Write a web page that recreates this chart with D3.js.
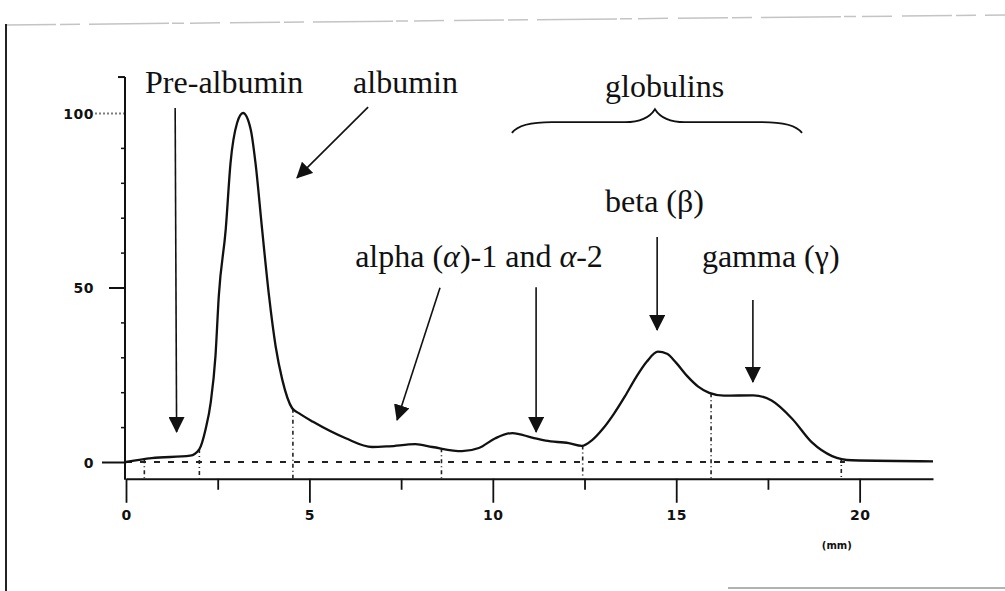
<!DOCTYPE html>
<html>
<head>
<meta charset="utf-8">
<script src="https://cdn.jsdelivr.net/npm/d3@7"></script>
<style>
    body { margin: 0; background: #fff; }
    svg { display: block; }
    .label { font-family: "Liberation Serif", "Times New Roman", serif; font-size: 32px; fill: #111; }
</style>
</head>
<body>
<div id="chart"></div>
<script>
// densitometer trace: migration distance (mm) and relative density
const positionMm = [0, 0.7, 1.75, 2.0, 2.17, 2.31, 2.44, 2.53, 2.72, 2.85, 3.03, 3.19, 3.4, 3.53, 3.71, 3.9,
    4.08, 4.26, 4.53, 4.71, 5.1, 5.99, 6.71, 7.17, 7.89, 8.35, 9.16, 9.62, 10.07, 10.53, 11.07, 11.44,
    12.07, 12.43, 12.7, 13.0, 13.3, 13.6, 13.9, 14.2, 14.5, 14.75, 15.0, 15.3, 15.6, 15.9, 16.3,
    17.1, 17.6, 18.16, 18.7, 19.25, 19.79, 22.0];
const density = [0, 1.1, 1.8, 3.7, 9.4, 17.1, 30.5, 47.6, 66.8, 85.7, 97.2, 100, 95.3, 85.7, 66.7, 47.5,
    33.1, 23.6, 15.4, 14.0, 11.5, 6.8, 4.3, 4.5, 5.1, 4.3, 3.1, 4.0, 6.8, 8.3, 7.0, 6.1,
    5.4, 4.6, 6.2, 9.5, 13.8, 18.8, 24.2, 28.8, 31.6, 31.0, 28.4, 24.6, 21.6, 19.8, 19.0,
    19.1, 17.6, 12.4, 5.6, 1.7, 0.5, 0.2];

// axis ticks
const xTicks = [0, 2.5, 5, 7.5, 10, 12.5, 15, 17.5, 20];
const xTickLabels = ["0", "", "5", "", "10", "", "15", "", "20"];
const yTicks = [0, 10, 20, 30, 40, 50, 60, 70, 80, 90, 100];
const yTickLabels = ["0", "", "", "", "", "50", "", "", "", "", "100"];

// fraction boundaries (mm)
const fractionBounds = [0.5, 2.0, 4.55, 8.6, 12.45, 15.95, 19.5];

// annotations, anchored in data units
const labels = [
    { parts: [["Pre-albumin", ""]], mm: 0.52, value: 105.7, anchor: "start" },
    { parts: [["albumin", ""]], mm: 6.19, value: 105.7, anchor: "start" },
    { parts: [["globulins", ""]], mm: 13.06, value: 104.6, anchor: "start" },
    { parts: [["beta (β)", ""]], mm: 13.06, value: 71.6, anchor: "start" },
    { parts: [["alpha (", ""], ["α", "italic"], [")-1 and ", ""], ["α", "italic"], ["-2", ""]], mm: 13.0, value: 55.9, anchor: "end" },
    { parts: [["gamma (γ)", ""]], mm: 15.7, value: 55.9, anchor: "start" }
];
const arrows = [
    { mm1: 1.34, v1: 101.4, mm2: 1.38, v2: 8.6 },   // pre-albumin
    { mm1: 6.6, v1: 101.7, mm2: 4.66, v2: 81.4 },   // albumin
    { mm1: 8.56, v1: 49.9, mm2: 7.39, v2: 12.0 },   // alpha-1
    { mm1: 11.18, v1: 50.1, mm2: 11.18, v2: 8.6 },  // alpha-2
    { mm1: 14.48, v1: 64.5, mm2: 14.48, v2: 37.8 }, // beta
    { mm1: 17.09, v1: 46.4, mm2: 17.09, v2: 22.9 }  // gamma
];
const brace = { mmStart: 10.52, mmTip: 14.42, mmEnd: 18.43, vEnd: 94.3, vBar: 97.4, vTip: 101.1 };

const width = 1005, height = 591;

const svg = d3.select("#chart")
    .append("svg")
    .attr("width", width)
    .attr("height", height);

// arrow head
svg.append("defs").append("marker")
    .attr("id", "head")
    .attr("markerUnits", "userSpaceOnUse")
    .attr("viewBox", "0 0 16 16")
    .attr("refX", 15)
    .attr("refY", 8)
    .attr("markerWidth", 16)
    .attr("markerHeight", 16)
    .attr("orient", "auto")
    .append("path")
    .attr("d", "M0,0 L16,8 L0,16 Z")
    .attr("fill", "#111");

// scanned page frame
svg.append("line")
    .attr("x1", 6).attr("y1", 25).attr("x2", width).attr("y2", 15)
    .attr("stroke", "#c4c4c4").attr("stroke-width", 1.5)
    .attr("stroke-dasharray", "50,4,20,9,80,3,12,6,30,10");
svg.append("line")
    .attr("x1", 6).attr("y1", 24).attr("x2", 6).attr("y2", height)
    .attr("stroke", "#222").attr("stroke-width", 2);
svg.append("line")
    .attr("x1", 728).attr("y1", 588).attr("x2", width).attr("y2", 588)
    .attr("stroke", "#999").attr("stroke-width", 1.5);

// scales
const x = d3.scaleLinear().domain([0, 22]).range([126, 933]);
const y = d3.scaleLinear().domain([0, 100]).range([462, 113]);
const axisValue = -4.8; // where the x axis sits
const axisY = y(axisValue);

const styleTickText = sel => sel
    .style("font-family", "'DejaVu Sans', sans-serif")
    .style("font-weight", "bold")
    .style("font-size", "14px")
    .style("letter-spacing", "0.5px")
    .attr("fill", "#111");

// y axis
const yAxis = d3.axisLeft(y)
    .tickValues(yTicks)
    .tickSize(4)
    .tickPadding(0)
    .tickFormat((d, i) => yTickLabels[i]);
const gy = svg.append("g")
    .attr("transform", `translate(${x(0) - 1},0)`)
    .call(yAxis);
gy.select(".domain").remove();
gy.selectAll(".tick line")
    .attr("stroke", "#111")
    .attr("stroke-width", d => d % 50 === 0 ? 2 : 1.5)
    .attr("x2", d => d === 0 ? -23 : d === 50 ? -16 : d === 100 ? -30 : -4)
    .attr("stroke-dasharray", d => d === 100 ? "2,2" : null)
    .attr("stroke-opacity", d => d === 100 ? 0.55 : 1);
gy.selectAll(".tick text")
    .attr("x", -31)
    .attr("dy", "0.36em")
    .call(styleTickText);
gy.append("line")
    .attr("x1", 0).attr("x2", 0)
    .attr("y1", y(110.3)).attr("y2", axisY + 1)
    .attr("stroke", "#111").attr("stroke-width", 2);
gy.append("line")
    .attr("x1", -7).attr("x2", 0)
    .attr("y1", y(110.3)).attr("y2", y(110.3))
    .attr("stroke", "#111").attr("stroke-width", 2);

// x axis
const xAxis = d3.axisBottom(x)
    .tickValues(xTicks)
    .tickSizeOuter(0)
    .tickFormat((d, i) => xTickLabels[i]);
const gx = svg.append("g")
    .attr("transform", `translate(0,${axisY})`)
    .call(xAxis);
gx.select(".domain")
    .attr("stroke", "#111")
    .attr("stroke-width", 2);
gx.selectAll(".tick line")
    .attr("stroke", "#111")
    .attr("stroke-width", 1.8)
    .attr("y2", d => d % 5 === 0 ? 24 : 11);
gx.selectAll(".tick text")
    .attr("y", 41)
    .attr("dy", 0)
    .call(styleTickText);
gx.append("text")
    .attr("x", x(18.97))
    .attr("y", 70)
    .attr("text-anchor", "start")
    .style("font-family", "'DejaVu Sans', sans-serif")
    .style("font-weight", "bold")
    .style("font-size", "10px")
    .attr("fill", "#111")
    .text("(mm)");

// dotted zero line
svg.append("line")
    .attr("x1", x(0)).attr("x2", x(19.6))
    .attr("y1", y(0)).attr("y2", y(0))
    .attr("stroke", "#222")
    .attr("stroke-width", 2)
    .attr("stroke-dasharray", "6,8");

// fraction boundaries, from the trace down to the axis
const valueAt = mm => {
    const i = d3.bisectLeft(positionMm, mm);
    if (i <= 0) return density[0];
    const t = (mm - positionMm[i - 1]) / (positionMm[i] - positionMm[i - 1]);
    return density[i - 1] + t * (density[i] - density[i - 1]);
};
svg.selectAll(".bound")
    .data(fractionBounds)
    .join("line")
    .attr("class", "bound")
    .attr("x1", d => x(d)).attr("x2", d => x(d))
    .attr("y1", d => y(valueAt(d)))
    .attr("y2", axisY)
    .attr("stroke", "#222")
    .attr("stroke-width", 1.6)
    .attr("stroke-dasharray", "4,3,1,3");

// trace
const line = d3.line()
    .x(d => x(d[0]))
    .y(d => y(d[1]))
    .curve(d3.curveMonotoneX);
svg.append("path")
    .datum(d3.zip(positionMm, density))
    .attr("d", line)
    .attr("fill", "none")
    .attr("stroke", "#111")
    .attr("stroke-width", 2.3)
    .attr("stroke-linejoin", "round");

// arrows
svg.selectAll(".arrow")
    .data(arrows)
    .join("line")
    .attr("class", "arrow")
    .attr("x1", d => x(d.mm1)).attr("y1", d => y(d.v1))
    .attr("x2", d => x(d.mm2)).attr("y2", d => y(d.v2))
    .attr("stroke", "#111")
    .attr("stroke-width", 1.6)
    .attr("marker-end", "url(#head)");

// globulins brace
const bx0 = x(brace.mmStart), bxt = x(brace.mmTip), bx1 = x(brace.mmEnd);
const by0 = y(brace.vEnd), byb = y(brace.vBar), byt = y(brace.vTip);
svg.append("path")
    .attr("d", `M${bx0},${by0} Q${bx0 + 8},${byb} ${bx0 + 40},${byb} L${bxt - 30},${byb} Q${bxt - 8},${byb} ${bxt},${byt}`
        + ` Q${bxt + 8},${byb} ${bxt + 30},${byb} L${bx1 - 40},${byb} Q${bx1 - 8},${byb} ${bx1},${by0}`)
    .attr("fill", "none")
    .attr("stroke", "#111")
    .attr("stroke-width", 1.8);

// labels
const txt = svg.selectAll(".label")
    .data(labels)
    .join("text")
    .attr("class", "label")
    .attr("x", d => x(d.mm))
    .attr("y", d => y(d.value))
    .attr("text-anchor", d => d.anchor);
txt.selectAll("tspan")
    .data(d => d.parts)
    .join("tspan")
    .attr("font-style", d => d[1] || null)
    .text(d => d[0]);
</script>
</body>
</html>
